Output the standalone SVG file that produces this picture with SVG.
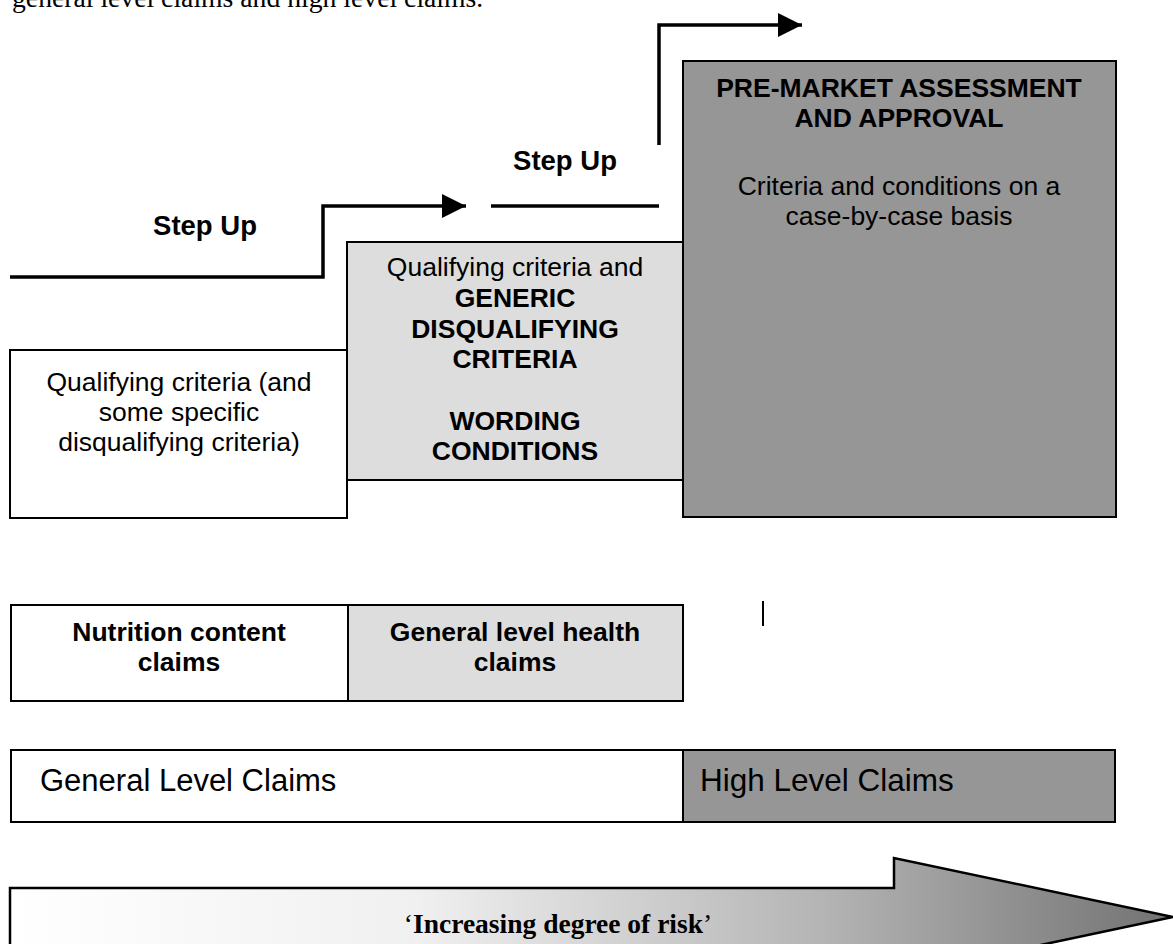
<svg xmlns="http://www.w3.org/2000/svg" width="1173" height="944" viewBox="0 0 1173 944">
<style>
.box{stroke:#000;stroke-width:2}
.t{font-family:"Liberation Sans",Arial,sans-serif;font-size:26.5px;fill:#000;text-anchor:middle}
.b{font-weight:bold}
.line{fill:none;stroke:#000;stroke-width:3.5}
</style>
<defs>
<marker id="ah" markerWidth="8" markerHeight="8" refX="7" refY="3.5" orient="auto" markerUnits="strokeWidth">
<path d="M0,0 L7,3.5 L0,7 Z" fill="#000"/>
</marker>
<linearGradient id="risk" gradientUnits="userSpaceOnUse" x1="10" y1="0" x2="1173" y2="0">
<stop offset="0" stop-color="#ffffff"/>
<stop offset="0.35" stop-color="#f0f0f0"/>
<stop offset="0.7" stop-color="#b4b4b4"/>
<stop offset="1" stop-color="#727272"/>
</linearGradient>
</defs>
<rect width="1173" height="944" fill="#fff"/>
<text x="12" y="7" style="font-family:'Liberation Serif','Times New Roman',serif;font-size:27.7px">general level claims and high level claims.</text>

<g id="connectors">
<polyline class="line" points="10,277 323,277 323,206 466,206" marker-end="url(#ah)"/>
<line class="line" x1="491" y1="206" x2="659" y2="206"/>
<polyline class="line" points="659,145 659,25 802,25" marker-end="url(#ah)"/>
</g>

<g id="label-step1"><text class="t b" x="205" y="235" style="font-size:27.5px">Step Up</text></g>
<g id="label-step2"><text class="t b" x="565" y="170" style="font-size:27.5px">Step Up</text></g>

<g id="box-nutrition-criteria">
<rect class="box" x="10" y="350" width="337" height="168" fill="#fff"/>
<text class="t" x="179" y="391">Qualifying criteria (and</text>
<text class="t" x="179" y="421">some specific</text>
<text class="t" x="179" y="451">disqualifying criteria)</text>
</g>

<g id="box-general-criteria">
<rect class="box" x="347" y="242" width="337" height="238" fill="#dddddd"/>
<text class="t" x="515" y="276">Qualifying criteria and</text>
<text class="t b" x="515" y="307">GENERIC</text>
<text class="t b" x="515" y="338">DISQUALIFYING</text>
<text class="t b" x="515" y="368">CRITERIA</text>
<text class="t b" x="515" y="430">WORDING</text>
<text class="t b" x="515" y="460">CONDITIONS</text>
</g>

<g id="box-premarket">
<rect class="box" x="683" y="61" width="433" height="456" fill="#969696"/>
<text class="t b" x="899" y="97">PRE-MARKET ASSESSMENT</text>
<text class="t b" x="899" y="127">AND APPROVAL</text>
<text class="t" x="899" y="195">Criteria and conditions on a</text>
<text class="t" x="899" y="225">case-by-case basis</text>
</g>

<g id="box-nutrition-claims">
<rect class="box" x="11" y="605" width="337" height="96" fill="#fff"/>
<text class="t b" x="179" y="641">Nutrition content</text>
<text class="t b" x="179" y="671">claims</text>
</g>
<g id="box-health-claims">
<rect class="box" x="348" y="605" width="335" height="96" fill="#dddddd"/>
<text class="t b" x="515" y="641">General level health</text>
<text class="t b" x="515" y="671">claims</text>
</g>

<line x1="763" y1="601" x2="763" y2="626" stroke="#000" stroke-width="2"/>

<g id="bar-general">
<rect class="box" x="11" y="750" width="672" height="72" fill="#fff"/>
<text x="40" y="791" style="font-family:'Liberation Sans',Arial,sans-serif;font-size:31px">General Level Claims</text>
</g>
<g id="bar-high">
<rect class="box" x="683" y="750" width="432" height="72" fill="#969696"/>
<text x="700" y="791" style="font-family:'Liberation Sans',Arial,sans-serif;font-size:31.5px">High Level Claims</text>
</g>

<g id="risk-arrow">
<path d="M10,950 L10,888 L894,888 L894,858 L1173,917 L894,976 L894,950 Z" fill="url(#risk)" stroke="#000" stroke-width="2.5"/>
<text x="558" y="933" style="font-family:'Liberation Serif','Times New Roman',serif;font-size:27.5px;text-anchor:middle"><tspan>‘</tspan><tspan font-weight="bold">Increasing degree of risk</tspan><tspan>’</tspan></text>
</g>
</svg>
